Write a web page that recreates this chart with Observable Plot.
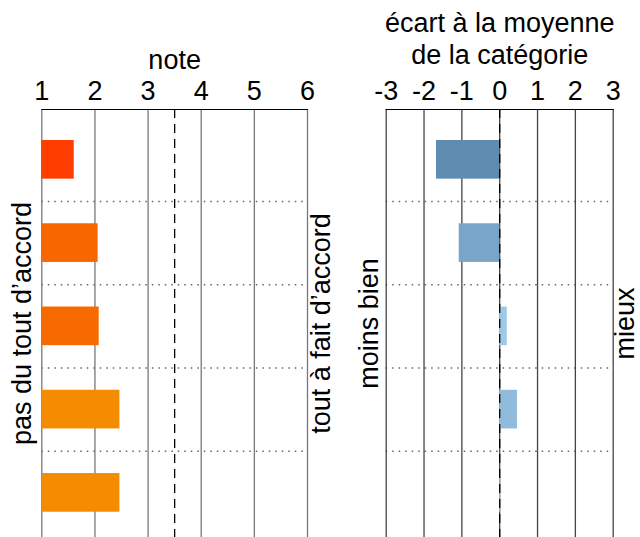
<!DOCTYPE html>
<html><head><meta charset="utf-8">
<script src="https://cdn.jsdelivr.net/npm/d3@7"></script>
<script src="https://cdn.jsdelivr.net/npm/@observablehq/plot@0.6"></script>
<style>
body{margin:0;background:#fff}
#wrap{position:relative;width:640px;height:537px;overflow:hidden;background:#fff}
#wrap svg{position:absolute;top:0}
</style>
</head><body><div id="wrap"></div>
<script>
// ---- data ----
const rows = ["1", "2", "3", "4", "5"];
const notes = [1.61, 2.06, 2.08, 2.47, 2.47];
const ecarts = [-1.67, -1.07, 0.2, 0.47, 0.02];
const noteTicks = [1, 2, 3, 4, 5, 6];
const ecartTicks = [-3, -2, -1, 0, 1, 2, 3];
const noteMid = 3.5;
const ecartMid = 0;
const noteTitle = "note";
const ecartTitle = "écart à la moyenne\nde la catégorie";
const noteLow = "pas du tout d’accord";
const noteHigh = "tout à fait d’accord";
const ecartLow = "moins bien";
const ecartHigh = "mieux";

// ---- styles ----
const notePalette = ["#ff3d00", "#f86600", "#f76a00", "#f48b00", "#f48b00"];
const ecartPalette = ["#5f8cb1", "#79a6c8", "#9dc9e6", "#90bbdb", "#a6d2ee"];
const FONT = "'Liberation Sans', Arial, Helvetica, sans-serif";
const FS = 27;

function panel(o) {
  const data = o.values.map((v, i) => ({row: rows[i], i, v}));
  const svg = Plot.plot({
    width: o.width, height: 537,
    marginTop: 109, marginBottom: 0, marginLeft: o.mL, marginRight: o.mR,
    style: {fontFamily: FONT, fontSize: FS + "px", color: "#000", background: "transparent", overflow: "visible"},
    x: {domain: d3.extent(o.ticks), axis: null},
    y: {domain: [0, rows.length], reverse: true, insetTop: 8.7, insetBottom: 3, axis: null},
    color: {domain: rows, range: o.palette},
    marks: [
      Plot.ruleY(d3.range(1, rows.length), {stroke: "#666", strokeDasharray: "1.5,5", strokeWidth: 1.4}),
      Plot.ruleX(o.ticks, {stroke: o.grid, strokeWidth: 1.3}),
      Plot.rect(data, {x1: () => o.base, x2: "v", y1: "i", y2: d => d.i + 1, insetTop: 22.3, insetBottom: 22.3, fill: "row"}),
      Plot.ruleX([o.mid], {stroke: "#000", strokeDasharray: "9,6", strokeWidth: 1.3}),
      Plot.frame({anchor: "top", stroke: "#000"}),
      Plot.axisX(o.ticks, {anchor: "top", tickSize: 0, tickPadding: 10, fontSize: FS, label: null, tickFormat: d => String(d)}),
      Plot.text([o.title], {text: d => d, frameAnchor: "top", dy: o.titleDy, lineAnchor: "bottom", fontSize: FS, lineHeight: 1.17}),
      Plot.text([o.low], {text: d => d, frameAnchor: "left", textAnchor: "middle", rotate: -90, lineAnchor: "bottom", dx: o.lowDx, fontSize: FS}),
      Plot.text([o.high], {text: d => d, frameAnchor: "right", textAnchor: "middle", rotate: -90, lineAnchor: "bottom", dx: o.highDx, fontSize: FS})
    ]
  });
  svg.style.left = o.left + "px";
  return svg;
}

const wrap = document.getElementById("wrap");
wrap.appendChild(panel({
  values: notes, ticks: noteTicks, mid: noteMid, base: noteTicks[0], palette: notePalette,
  title: noteTitle, low: noteLow, high: noteHigh, grid: "#777",
  width: 345, left: 0, mL: 41.3, mR: 38, titleDy: -40.7, lowDx: -10.5, highDx: 22.5
}));
wrap.appendChild(panel({
  values: ecarts, ticks: ecartTicks, mid: ecartMid, base: ecartMid, palette: ecartPalette,
  title: ecartTitle, low: ecartLow, high: ecartHigh, grid: "#444",
  width: 295, left: 345, mL: 40.7, mR: 27.3, titleDy: -45.7, lowDx: -8.5, highDx: 20.5
}));
</script>
</body></html>
